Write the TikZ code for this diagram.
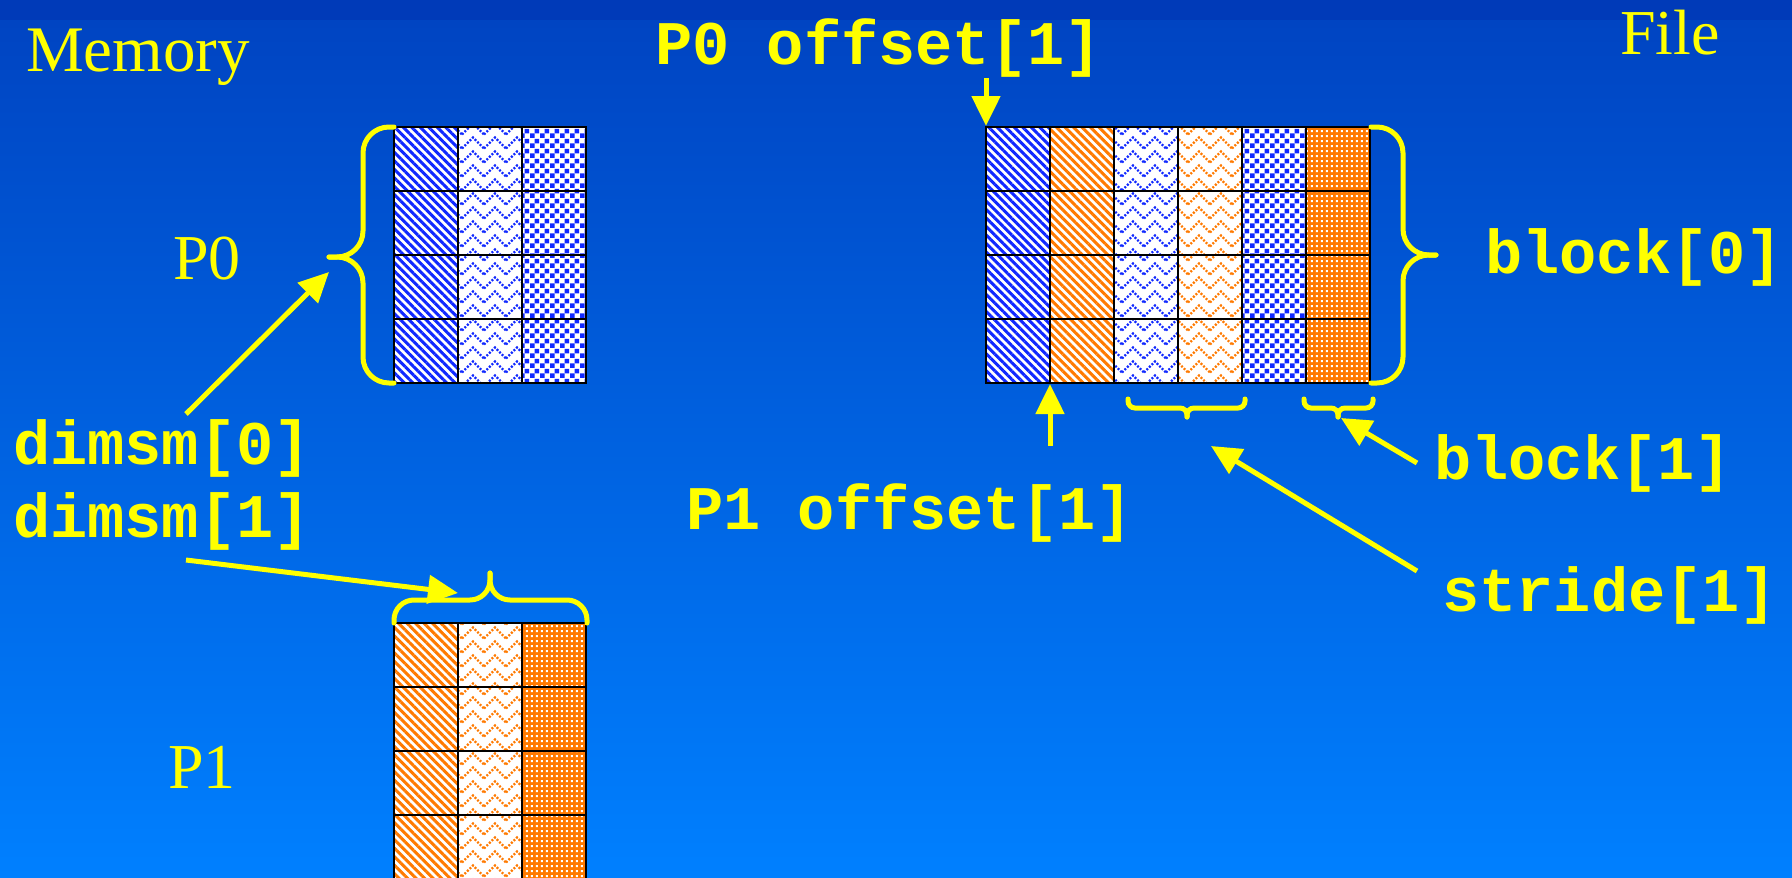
\documentclass[tikz,border=0pt]{standalone}
\usepackage{fontspec}
\setmainfont{Liberation Serif}
\setmonofont{Liberation Mono}
\usetikzlibrary{arrows.meta,patterns.meta}

\definecolor{bgband}{RGB}{0,58,184}
\definecolor{bgtop}{RGB}{0,68,194}
\definecolor{bgbot}{RGB}{0,128,255}
\definecolor{hiyellow}{RGB}{255,255,0}
\definecolor{patblue}{RGB}{16,40,255}
\definecolor{patorange}{RGB}{255,122,0}

% fill patterns of the cells
\tikzdeclarepattern{
  name=bigchecks,
  type=uncolored,
  bounding box={(0pt,0pt) and (10pt,10pt)},
  tile size={(10pt,10pt)},
  code={
    \fill (0pt,0pt) rectangle (5pt,5pt);
    \fill (5pt,5pt) rectangle (10pt,10pt);
  }
}
\tikzdeclarepattern{
  name=chevrons,
  type=uncolored,
  bounding box={(-1pt,-1pt) and (23pt,15pt)},
  tile size={(22pt,14pt)},
  code={
    \draw[line width=2.2pt, dash pattern=on 2pt off 1.6pt] (0pt,1.5pt) -- (11pt,12.5pt) -- (22pt,1.5pt);
  }
}
\tikzdeclarepattern{
  name=pixholes,
  type=uncolored,
  bounding box={(0pt,0pt) and (5pt,5pt)},
  tile size={(5pt,5pt)},
  code={
    \fill (1pt,1pt) rectangle (3.4pt,3.4pt);
  }
}

\tikzset{
  cell/.style={draw=black, line width=2pt},
  stripe blue/.style={cell, preaction={fill=white}, pattern={Lines[angle=-45,distance=6pt,line width=3pt]}, pattern color=patblue},
  stripe orange/.style={cell, preaction={fill=white}, pattern={Lines[angle=-45,distance=6pt,line width=3pt]}, pattern color=patorange},
  zigzag blue/.style={cell, preaction={fill=white}, pattern=chevrons, pattern color=patblue},
  zigzag orange/.style={cell, preaction={fill=white}, pattern=chevrons, pattern color=patorange},
  checker blue/.style={cell, preaction={fill=white}, pattern=bigchecks, pattern color=patblue},
  speckle orange/.style={cell, preaction={fill=patorange}, pattern=pixholes, pattern color=white},
  serif label/.style={text=hiyellow, font=\fontsize{65}{78}\selectfont, inner sep=0pt, anchor=base west},
  code label/.style={text=hiyellow, font=\ttfamily\bfseries\fontsize{62}{75}\selectfont, inner sep=0pt, anchor=base west},
  brace line/.style={draw=hiyellow, line width=5pt, line cap=round},
  pointer/.style={draw=hiyellow, line width=5pt, ->},
}

\begin{document}
\begin{tikzpicture}[x=1pt, y=-1pt, >={Triangle[length=30pt,width=28pt]}]

% background
\useasboundingbox (0,0) rectangle (1792,878);
\clip (0,0) rectangle (1792,878);
\shade[top color=bgtop, bottom color=bgbot] (0,20) rectangle (1792,878);
\fill[bgband] (0,0) rectangle (1792,20);

% P0 in memory
\foreach \row in {0,...,3}
  \foreach \col/\look in {0/stripe blue,1/zigzag blue,2/checker blue}
    \path[\look] (394+64*\col,127+64*\row) rectangle ++(64,64);

% P1 in memory
\foreach \row in {0,...,3}
  \foreach \col/\look in {0/stripe orange,1/zigzag orange,2/speckle orange}
    \path[\look] (394+64*\col,623+64*\row) rectangle ++(64,64);

% the file
\foreach \row in {0,...,3}
  \foreach \col/\look in {0/stripe blue,1/stripe orange,2/zigzag blue,3/zigzag orange,4/checker blue,5/speckle orange}
    \path[\look] (986+64*\col,127+64*\row) rectangle ++(64,64);

% braces
\draw[brace line, rounded corners=26pt] (394,127) -- (363,127) -- (363,257) -- (329,257);
\draw[brace line, rounded corners=26pt] (329,257) -- (363,257) -- (363,383) -- (394,383);

\draw[brace line, rounded corners=20pt] (394,623) -- (394,600) -- (490,600) -- (490,573);
\draw[brace line, rounded corners=20pt] (490,573) -- (490,600) -- (587,600) -- (587,623);

\draw[brace line, rounded corners=26pt] (1371,127) -- (1403,127) -- (1403,255) -- (1436,255);
\draw[brace line, rounded corners=26pt] (1436,255) -- (1403,255) -- (1403,383) -- (1371,383);

\draw[brace line, rounded corners=7pt] (1128,399) -- (1128,408) -- (1187,408) -- (1187,417);
\draw[brace line, rounded corners=7pt] (1187,417) -- (1187,408) -- (1245,408) -- (1245,399);
\draw[brace line, rounded corners=7pt] (1304,399) -- (1304,408) -- (1338,408) -- (1338,417);
\draw[brace line, rounded corners=7pt] (1338,417) -- (1338,408) -- (1373,408) -- (1373,399);

% labels
\node[serif label] (memory) at (26,71) {Memory};
\node[serif label, font=\fontsize{64}{77}\selectfont] (file) at (1620,54) {File};
\node[serif label, font=\fontsize{64}{77}\selectfont] (p0 name) at (173,279) {P0};
\node[serif label, font=\fontsize{64}{77}\selectfont] (p1 name) at (168,788) {P1};

\node[code label] (p0 offset) at (655,64) {P0 offset[1]};
\node[code label] (p1 offset) at (686,529) {P1 offset[1]};
\node[code label] (dimsm0) at (13,464) {dimsm[0]};
\node[code label] (dimsm1) at (13,537) {dimsm[1]};
\node[code label] (block0) at (1485,273) {block[0]};
\node[code label] (block1) at (1434,479) {block[1]};
\node[code label] (stride1) at (1442,611) {stride[1]};

% arrow ends
\coordinate (dimsm0 tail) at (186,414);
\coordinate (p0 brace) at (329,272);
\coordinate (dimsm1 tail) at (186,560);
\coordinate (p1 brace) at (458,593);
\coordinate (p0 offset tail) at (986,78);
\coordinate (p0 start) at (986,126);
\coordinate (p1 offset tail) at (1050,446);
\coordinate (p1 start) at (1050,384);
\coordinate (stride tail) at (1417,571);
\coordinate (stride brace) at (1211,446);
\coordinate (block1 tail) at (1417,463);
\coordinate (block1 brace) at (1341,418);

\draw[pointer] (dimsm0 tail) -- (p0 brace);
\draw[pointer] (dimsm1 tail) -- (p1 brace);
\draw[pointer] (p0 offset tail) -- (p0 start);
\draw[pointer] (p1 offset tail) -- (p1 start);
\draw[pointer] (stride tail) -- (stride brace);
\draw[pointer] (block1 tail) -- (block1 brace);

\end{tikzpicture}
\end{document}
